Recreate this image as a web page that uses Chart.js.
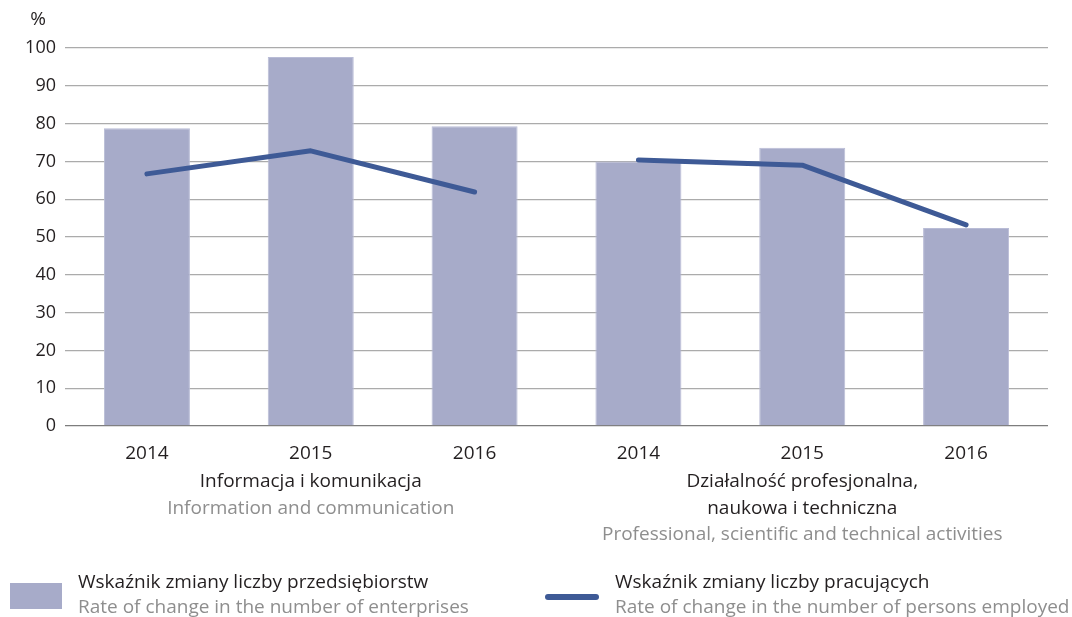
<!DOCTYPE html>
<html lang="pl">
<head>
    <meta charset="UTF-8">
    <title>Wskaźnik zmiany</title>
    <script src="https://cdn.jsdelivr.net/npm/chart.js@4.4.1/dist/chart.umd.min.js"></script>
    <style>
        body { margin: 0; background: #ffffff; font-family: "Open Sans", sans-serif; }
        .wrap { position: relative; width: 1072px; height: 617px; }
        .legend-item { position: absolute; top: 569px; display: flex; align-items: flex-start; }
        .legend-item .txt { font-size: 19px; line-height: 25px; color: #231f20; white-space: nowrap; }
        .legend-item .txt span { display: block; color: #8e8e8e; }
        .sw-bar { width: 52px; height: 26px; background: #a7abc9; margin-top: 14px; }
        .sw-line { width: 54px; height: 6px; border-radius: 3px; background: #3e5a96; margin-top: 25px; }
    </style>
</head>
<body>
    <div class="wrap">
        <canvas id="chart" width="1072" height="617"></canvas>
        <div class="legend-item" style="left: 10px;">
            <div class="sw-bar"></div>
            <div class="txt" style="margin-left: 16px;">Wskaźnik zmiany liczby przedsiębiorstw<span>Rate of change in the number of enterprises</span></div>
        </div>
        <div class="legend-item" style="left: 545px;">
            <div class="sw-line"></div>
            <div class="txt" style="margin-left: 16px;">Wskaźnik zmiany liczby pracujących<span>Rate of change in the number of persons employed</span></div>
        </div>
    </div>

    <script>
        const years = ['2014', '2015', '2016', '2014', '2015', '2016'];
        const enterprises = [78.8, 97.6, 79.3, 70.0, 73.6, 52.4];
        const employed = [66.7, 72.8, 61.9, 70.4, 69.0, 53.2];
        const groups = [
            { at: 1, pl: ['Informacja i komunikacja'], en: ['Information and communication'] },
            { at: 4, pl: ['Działalność profesjonalna,', 'naukowa i techniczna'], en: ['Professional, scientific and technical activities'] }
        ];

        // group captions under the year ticks
        const groupLabels = {
            id: 'groupLabels',
            afterDraw(chart) {
                const ctx = chart.ctx;
                const x = chart.scales.x;
                ctx.save();
                ctx.font = '19px "Open Sans"';
                ctx.textAlign = 'center';
                ctx.textBaseline = 'middle';
                groups.forEach(g => {
                    const cx = (x.getPixelForValue(g.at - 0.5) + x.getPixelForValue(g.at + 0.5)) / 2;
                    let y = 482;
                    ctx.fillStyle = '#231f20';
                    g.pl.forEach(t => { ctx.fillText(t, cx, y); y += 26.5; });
                    ctx.fillStyle = '#8e8e8e';
                    g.en.forEach(t => { ctx.fillText(t, cx, y); y += 26.5; });
                });
                // "%" unit above the axis
                ctx.fillStyle = '#231f20';
                ctx.fillText('%', 38, 20);
                ctx.restore();
            }
        };

        new Chart(document.getElementById('chart'), {
            data: {
                labels: years,
                datasets: [
                    {
                        type: 'line',
                        label: 'Wskaźnik zmiany liczby pracujących',
                        data: employed,
                        borderColor: '#3e5a96',
                        borderWidth: 5,
                        borderCapStyle: 'round',
                        borderJoinStyle: 'round',
                        pointRadius: 0,
                        tension: 0,
                        order: 0,
                        segment: {
                            borderColor: c => c.p0DataIndex === 2 ? 'rgba(0,0,0,0)' : undefined
                        }
                    },
                    {
                        type: 'bar',
                        label: 'Wskaźnik zmiany liczby przedsiębiorstw',
                        data: enterprises,
                        backgroundColor: '#a7abc9',
                        borderColor: '#b9bcd6',
                        borderWidth: 1,
                        categoryPercentage: 1,
                        barPercentage: 0.525,
                        order: 1
                    }
                ]
            },
            options: {
                responsive: false,
                animation: false,
                layout: { padding: { top: 48, right: 24, left: 0, bottom: 0 } },
                plugins: { legend: { display: false }, tooltip: { enabled: false } },
                scales: {
                    x: {
                        grid: { display: false },
                        border: { display: false },
                        ticks: { color: '#231f20', font: { family: 'Open Sans', size: 19 }, padding: 8 },
                        afterFit(s) { s.height = 191; }
                    },
                    y: {
                        min: 0,
                        max: 100,
                        ticks: { stepSize: 10, color: '#231f20', font: { family: 'Open Sans', size: 18 }, padding: 9 },
                        grid: {
                            drawTicks: false,
                            lineWidth: 1.3,
                            color: c => c.tick.value === 0 ? '#7d7d7d' : '#ababab'
                        },
                        border: { display: false },
                        afterFit(s) { s.width = 65; }
                    }
                }
            },
            plugins: [groupLabels]
        });
    </script>
</body>
</html>
